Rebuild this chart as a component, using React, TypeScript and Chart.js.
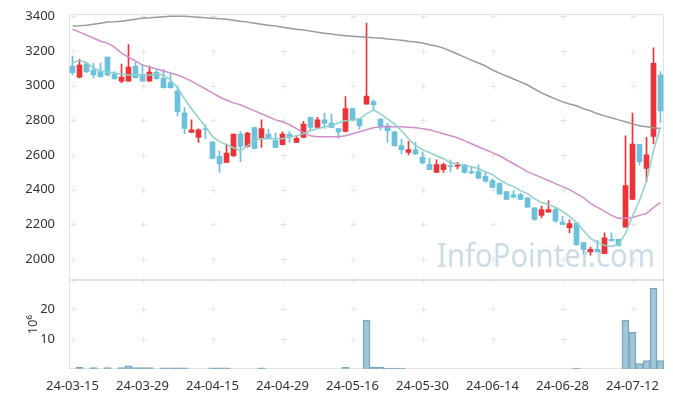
import React, { useEffect, useRef } from 'react';
import { Chart, registerables } from 'chart.js';

Chart.register(...registerables);

const dates = [
  '24-03-15', '24-03-18', '24-03-19', '24-03-20', '24-03-21', '24-03-22', '24-03-25', '24-03-26', '24-03-27', '24-03-28',
  '24-03-29', '24-04-01', '24-04-02', '24-04-03', '24-04-04', '24-04-05', '24-04-08', '24-04-09', '24-04-11', '24-04-12',
  '24-04-15', '24-04-16', '24-04-17', '24-04-18', '24-04-19', '24-04-22', '24-04-23', '24-04-24', '24-04-25', '24-04-26',
  '24-04-29', '24-04-30', '24-05-02', '24-05-03', '24-05-07', '24-05-08', '24-05-09', '24-05-10', '24-05-13', '24-05-14',
  '24-05-16', '24-05-17', '24-05-20', '24-05-21', '24-05-22', '24-05-23', '24-05-24', '24-05-27', '24-05-28', '24-05-29',
  '24-05-30', '24-05-31', '24-06-03', '24-06-04', '24-06-05', '24-06-07', '24-06-10', '24-06-11', '24-06-12', '24-06-13',
  '24-06-14', '24-06-17', '24-06-18', '24-06-19', '24-06-20', '24-06-21', '24-06-24', '24-06-25', '24-06-26', '24-06-27',
  '24-06-28', '24-07-01', '24-07-02', '24-07-03', '24-07-04', '24-07-05', '24-07-08', '24-07-09', '24-07-10', '24-07-11',
  '24-07-12', '24-07-15', '24-07-16', '24-07-17', '24-07-18',
];

const opens = [
  3113, 3049, 3126, 3090, 3080, 3164, 3065, 3026, 3026, 3113,
  3065, 3026, 3078, 3042, 3017, 2969, 2843, 2729, 2701, 2750,
  2676, 2591, 2557, 2595, 2720, 2649, 2758, 2697, 2720, 2682,
  2659, 2720, 2672, 2701, 2816, 2758, 2802, 2783, 2752, 2735,
  2867, 2806, 2893, 2907, 2806, 2768, 2733, 2653, 2614, 2630,
  2586, 2544, 2499, 2515, 2536, 2535, 2542, 2503, 2503, 2476,
  2452, 2436, 2389, 2370, 2371, 2352, 2295, 2251, 2270, 2285,
  2212, 2180, 2206, 2094, 2040, 2055, 2030, 2113, 2113, 2183,
  2343, 2659, 2522, 2706, 3061,
];

const highs = [
  3170, 3153, 3135, 3130, 3130, 3164, 3080, 3124, 3237, 3132,
  3122, 3113, 3090, 3094, 3074, 2998, 2873, 2802, 2751, 2774,
  2676, 2624, 2663, 2720, 2735, 2730, 2760, 2802, 2749, 2726,
  2733, 2735, 2710, 2793, 2818, 2816, 2841, 2835, 2752, 2936,
  2870, 2808, 3361, 2917, 2808, 2783, 2735, 2691, 2678, 2672,
  2618, 2582, 2572, 2553, 2572, 2557, 2545, 2528, 2542, 2499,
  2462, 2439, 2389, 2394, 2379, 2352, 2295, 2304, 2337, 2295,
  2245, 2226, 2206, 2094, 2068, 2107, 2151, 2151, 2113, 2710,
  2841, 2659, 2701, 3218, 3080,
];

const lows = [
  3061, 3044, 3075, 3044, 3049, 3055, 3036, 3017, 3026, 3042,
  3026, 3026, 3036, 2985, 2985, 2825, 2722, 2729, 2672, 2693,
  2577, 2499, 2557, 2590, 2561, 2645, 2635, 2643, 2693, 2641,
  2657, 2672, 2670, 2700, 2739, 2752, 2752, 2756, 2695, 2733,
  2796, 2749, 2893, 2854, 2743, 2672, 2650, 2605, 2600, 2601,
  2548, 2515, 2499, 2499, 2505, 2519, 2494, 2490, 2461, 2442,
  2412, 2371, 2343, 2352, 2343, 2298, 2222, 2237, 2270, 2212,
  2199, 2151, 2078, 2030, 2021, 2040, 2030, 2103, 2074, 2183,
  2343, 2542, 2446, 2663, 2787,
];

const closes = [
  3074, 3118, 3080, 3061, 3051, 3061, 3040, 3049, 3107, 3045,
  3026, 3078, 3040, 2988, 2988, 2850, 2752, 2745, 2745, 2745,
  2580, 2548, 2611, 2720, 2649, 2726, 2637, 2752, 2695, 2643,
  2720, 2701, 2695, 2778, 2758, 2802, 2781, 2758, 2733, 2867,
  2802, 2768, 2940, 2889, 2768, 2739, 2653, 2630, 2630, 2605,
  2553, 2515, 2544, 2544, 2532, 2541, 2499, 2496, 2465, 2448,
  2413, 2375, 2343, 2356, 2343, 2298, 2228, 2285, 2285, 2218,
  2199, 2203, 2082, 2054, 2055, 2040, 2122, 2103, 2078, 2423,
  2663, 2561, 2601, 3128, 2854,
];

// millions of shares
const volumes = [
  0, 0.55, 0, 0.5, 0, 0.5, 0, 0.5, 1.1, 0.45,
  0.45, 0.45, 0, 0.4, 0.4, 0.4, 0.4, 0, 0, 0,
  0.4, 0.4, 0.4, 0, 0, 0, 0, 0.4, 0, 0,
  0, 0, 0, 0, 0, 0, 0, 0, 0, 0.67,
  0, 0, 16.4, 0.67, 0.67, 0.33, 0.33, 0.33, 0, 0,
  0, 0, 0, 0, 0, 0, 0, 0, 0, 0,
  0, 0, 0, 0, 0, 0, 0, 0, 0, 0,
  0, 0, 0.33, 0, 0, 0, 0, 0, 0, 16.4,
  12.3, 1.8, 2.8, 27.0, 2.8,
];

const ma5 = [
  3130, 3147, 3130, 3101, 3084, 3078, 3072, 3067, 3061, 3061,
  3061, 3061, 3067, 3061, 3032, 2986, 2923, 2866, 2814, 2762,
  2705, 2676, 2659, 2641, 2624, 2653, 2682, 2693, 2693, 2693,
  2693, 2705, 2710, 2722, 2739, 2751, 2762, 2768, 2785, 2797,
  2802, 2808, 2837, 2860, 2837, 2808, 2779, 2739, 2693, 2653,
  2630, 2613, 2595, 2578, 2555, 2549, 2538, 2532, 2521, 2503,
  2486, 2457, 2434, 2417, 2394, 2377, 2348, 2325, 2314, 2297,
  2274, 2245, 2210, 2164, 2118, 2095, 2078, 2072, 2084, 2147,
  2245, 2337, 2452, 2624, 2762,
];

const ma20 = [
  3325, 3308, 3291, 3274, 3256, 3245, 3222, 3187, 3164, 3141,
  3118, 3107, 3095, 3084, 3072, 3061, 3044, 3026, 3003, 2980,
  2958, 2934, 2917, 2900, 2889, 2871, 2854, 2837, 2820, 2802,
  2791, 2774, 2751, 2728, 2710, 2705, 2705, 2705, 2705, 2710,
  2722, 2733, 2745, 2756, 2762, 2762, 2762, 2762, 2759, 2756,
  2751, 2745, 2733, 2722, 2710, 2699, 2682, 2664, 2647, 2630,
  2613, 2595, 2572, 2549, 2526, 2503, 2486, 2469, 2452, 2434,
  2417, 2400, 2377, 2354, 2320, 2297, 2274, 2251, 2234, 2234,
  2239, 2251, 2262, 2297, 2325,
];

const ma60 = [
  3343, 3345, 3348, 3354, 3360, 3366, 3368, 3371, 3377, 3383,
  3389, 3391, 3394, 3397, 3400, 3400, 3400, 3397, 3394, 3391,
  3389, 3386, 3383, 3377, 3371, 3366, 3360, 3354, 3348, 3343,
  3337, 3331, 3325, 3320, 3314, 3308, 3302, 3297, 3291, 3288,
  3285, 3282, 3279, 3276, 3274, 3268, 3265, 3262, 3256, 3251,
  3245, 3236, 3228, 3216, 3199, 3182, 3164, 3147, 3130, 3113,
  3090, 3072, 3055, 3038, 3021, 3003, 2980, 2958, 2940, 2923,
  2906, 2894, 2883, 2866, 2854, 2837, 2825, 2814, 2802, 2791,
  2779, 2768, 2762, 2756, 2751,
];

const priceTicks = [2000, 2200, 2400, 2600, 2800, 3000, 3200, 3400];
const volumeTicks = [10, 20];
const labelEvery = 10;

const UP = '#ec3338';
const DOWN = '#6bc1db';
const FONT = "'Noto Sans', sans-serif";

const decorPlugin = {
  id: 'decor',
  beforeDatasetsDraw(chart: any) {
    const { ctx, chartArea, scales } = chart;
    const x = scales.x;
    const y = scales.y;
    const yv = scales.yv;
    ctx.save();
    // watermark
    ctx.font = `32px ${FONT}`;
    ctx.fillStyle = 'rgba(150,188,206,0.5)';
    ctx.textAlign = 'left';
    ctx.textBaseline = 'alphabetic';
    ctx.fillText('InfoPointer.com', chartArea.right - 227, y.bottom - 13, 218);

    // panel borders
    ctx.strokeStyle = '#e2e2e2';
    ctx.lineWidth = 1;
    const L = Math.round(chartArea.left) + 0.5;
    const R = Math.round(chartArea.right) - 0.5;
    [y, yv].forEach((s: any) => {
      const t = Math.round(s.top) + 0.5;
      const b = Math.round(s.bottom) - 0.5;
      ctx.strokeRect(L, t, R - L, b - t);
    });

    // "+" grid marks
    ctx.strokeStyle = '#e4e4e4';
    const xs: number[] = [];
    for (let i = 0; i < dates.length; i += labelEvery) xs.push(x.getPixelForValue(i));
    const ys: number[] = [];
    priceTicks.forEach((v) => ys.push(y.getPixelForValue(v)));
    volumeTicks.forEach((v) => ys.push(yv.getPixelForValue(v)));
    ys.push(yv.top);
    ctx.beginPath();
    xs.forEach((px) => {
      ys.forEach((py) => {
        const cx = Math.round(px) + 0.5;
        const cy = Math.round(py) + 0.5;
        ctx.moveTo(cx - 3, cy);
        ctx.lineTo(cx + 3, cy);
        ctx.moveTo(cx, cy - 3);
        ctx.lineTo(cx, cy + 3);
      });
    });
    ctx.stroke();
    ctx.restore();
  },
};

export default function App() {
  const ref = useRef<HTMLCanvasElement | null>(null);

  useEffect(() => {
    if (!ref.current) return;
    Chart.defaults.font.family = FONT;
    Chart.defaults.font.size = 13;
    Chart.defaults.color = '#333';

    const bodies = opens.map((o, i) => [o, closes[i]]);
    const wicks = lows.map((l, i) => [l, highs[i]]);
    const colors = closes.map((c, i) => (c >= opens[i] ? UP : DOWN));

    const chart = new Chart(ref.current, {
      type: 'bar',
      data: {
        labels: dates,
        datasets: [
          { type: 'line', label: 'MA5', data: ma5, yAxisID: 'y', borderColor: '#8fd0c9', borderWidth: 1.5, pointRadius: 0, order: 0 } as any,
          { type: 'line', label: 'MA20', data: ma20, yAxisID: 'y', borderColor: '#d08fcb', borderWidth: 1.5, pointRadius: 0, order: 0 } as any,
          { type: 'line', label: 'MA60', data: ma60, yAxisID: 'y', borderColor: '#9a9a9a', borderWidth: 1.5, pointRadius: 0, order: 0 } as any,
          { type: 'bar', label: 'body', data: bodies, yAxisID: 'y', backgroundColor: colors, barThickness: 5, minBarLength: 1, grouped: false, order: 1 } as any,
          { type: 'bar', label: 'wick', data: wicks, yAxisID: 'y', backgroundColor: colors, barThickness: 1, grouped: false, order: 2 } as any,
          { type: 'bar', label: 'volume', data: volumes, yAxisID: 'yv', backgroundColor: 'rgba(140,185,205,0.82)', borderColor: '#74a6bd', borderWidth: 1, barPercentage: 1, categoryPercentage: 1, grouped: false, order: 3 } as any,
        ],
      },
      options: {
        responsive: false,
        animation: false,
        devicePixelRatio: 1,
        layout: { padding: { top: 12.5, right: 9, left: 0, bottom: 0 } },
        plugins: { legend: { display: false }, tooltip: { enabled: false } },
        scales: {
          x: {
            type: 'category',
            offset: true,
            grid: { display: false },
            border: { display: false },
            ticks: { autoSkip: false, maxRotation: 0, padding: 1, color: '#333' },
            afterBuildTicks: (s: any) => {
              s.ticks = s.ticks.filter((t: any) => t.value % labelEvery === 0);
            },
            afterFit: (s: any) => {
              s.height = 29;
            },
          },
          y: {
            type: 'linear',
            position: 'left',
            stack: 'panels',
            stackWeight: 3,
            weight: 2,
            min: 1877,
            max: 3414,
            grid: { display: false },
            border: { display: false },
            ticks: { padding: 6, color: '#333', callback: (v: any) => String(v) },
            afterBuildTicks: (s: any) => {
              s.ticks = priceTicks.map((v) => ({ value: v }));
            },
            afterFit: (s: any) => {
              s.width = 69;
            },
          },
          yv: {
            type: 'linear',
            position: 'left',
            stack: 'panels',
            stackWeight: 1,
            weight: 1,
            min: 0,
            max: 29.7,
            grid: { display: false },
            border: { display: false },
            ticks: { padding: 6, color: '#333', callback: (v: any) => String(v) },
            title: { display: true, text: '10⁶', color: '#333', padding: { top: 25, bottom: 0 }, font: { size: 13 } },
            afterBuildTicks: (s: any) => {
              s.ticks = volumeTicks.map((v) => ({ value: v }));
            },
            afterFit: (s: any) => {
              s.width = 69;
            },
          },
        },
      } as any,
      plugins: [decorPlugin],
    });

    return () => chart.destroy();
  }, []);

  return (
    <div style={{ position: 'fixed', left: 0, top: 0, width: 673, height: 398, background: '#fff' }}>
      <canvas ref={ref} width={673} height={398} style={{ width: 673, height: 398 }} />
    </div>
  );
}
